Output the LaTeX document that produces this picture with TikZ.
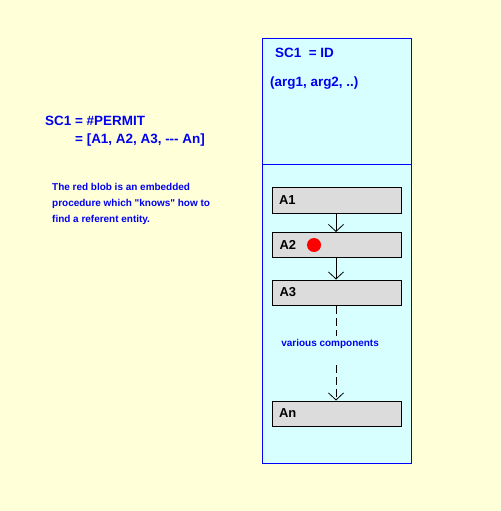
\documentclass[tikz,border=0pt]{standalone}
\usepackage{fontspec}
\setmainfont{Liberation Sans}
\usetikzlibrary{arrows.meta}
\definecolor{paper}{RGB}{255,255,216}
\definecolor{sky}{RGB}{216,255,255}
\definecolor{slate}{RGB}{220,220,220}
\definecolor{ink}{RGB}{0,0,240}
\begin{document}
\begin{tikzpicture}[x=1bp, y=-1bp,
	note/.style = { text = ink, font = \bfseries\fontsize{10}{16}\selectfont, inner sep = 0, anchor = west, align = left },
	title/.style = { text = ink, font = \bfseries\fontsize{13.5}{16}\selectfont, inner sep = 0, anchor = west },
	part/.style = { draw, fill = slate, line width = 1bp, minimum width = 129bp, minimum height = 25bp, text width = 115bp, inner xsep = 7bp, align = left, font = \bfseries\fontsize{13}{14}\selectfont },
	link/.style = { draw, line width = 0.8bp, -{Straight Barb[length=7bp, width=15bp]} }]
	\fill [paper] (0,0) rectangle (501,511);
	\useasboundingbox (0,0) rectangle (501,511);
	\node [draw = blue, fill = sky, line width = 1bp, minimum width = 149bp, minimum height = 424bp, inner sep = 0] (frame) at (336.5,251) {};
	\draw [blue, line width = 1bp] (frame.west |- 0,165) -- (frame.east |- 0,165);
	\node [title] (permit) at (45,121) { SC1 = \#PERMIT };
	\node [title] (list) at (75,140) { = [A1, A2, A3, -{}-{}- An] };
	\node [note] (blobnote) at (52,204) { The red blob is an embedded \\ procedure which \textquotedbl knows\textquotedbl{} how to \\ find a referent entity. };
	\node [title] (id) at (275,53) { SC1\ \ = ID };
	\node [title] (args) at (270,83) { (arg1, arg2, ..) };
	\node [part] (a1) at (336.5,200.5) { A1 };
	\node [part] (a2) at (337,245) { A2 };
	\node [part] (a3) at (337,292.5) { A3 };
	\node [part] (an) at (336.5,413.5) { An };
	\node [circle, fill = red, minimum size = 14bp, inner sep = 0] (blob) at (314,245) {};
	\node [note, anchor = center, font = \bfseries\fontsize{10}{12}\selectfont] (various) at (331.5,344) { various components };
	\coordinate (gaptop) at (336,336);
	\coordinate (gapbot) at (336,365);
	\draw [link] (a1.south -| 336,0) -- (a2.north -| 336,0);
	\draw [link] (a2.south -| 336,0) -- (a3.north -| 336,0);
	\draw [line width = 0.8bp, dash pattern = on 8bp off 4bp] (a3.south -| 336,0) -- (gaptop);
	\draw [link, dash pattern = on 8bp off 4bp] (gapbot) -- (an.north -| 336,0);
\end{tikzpicture}
\end{document}
